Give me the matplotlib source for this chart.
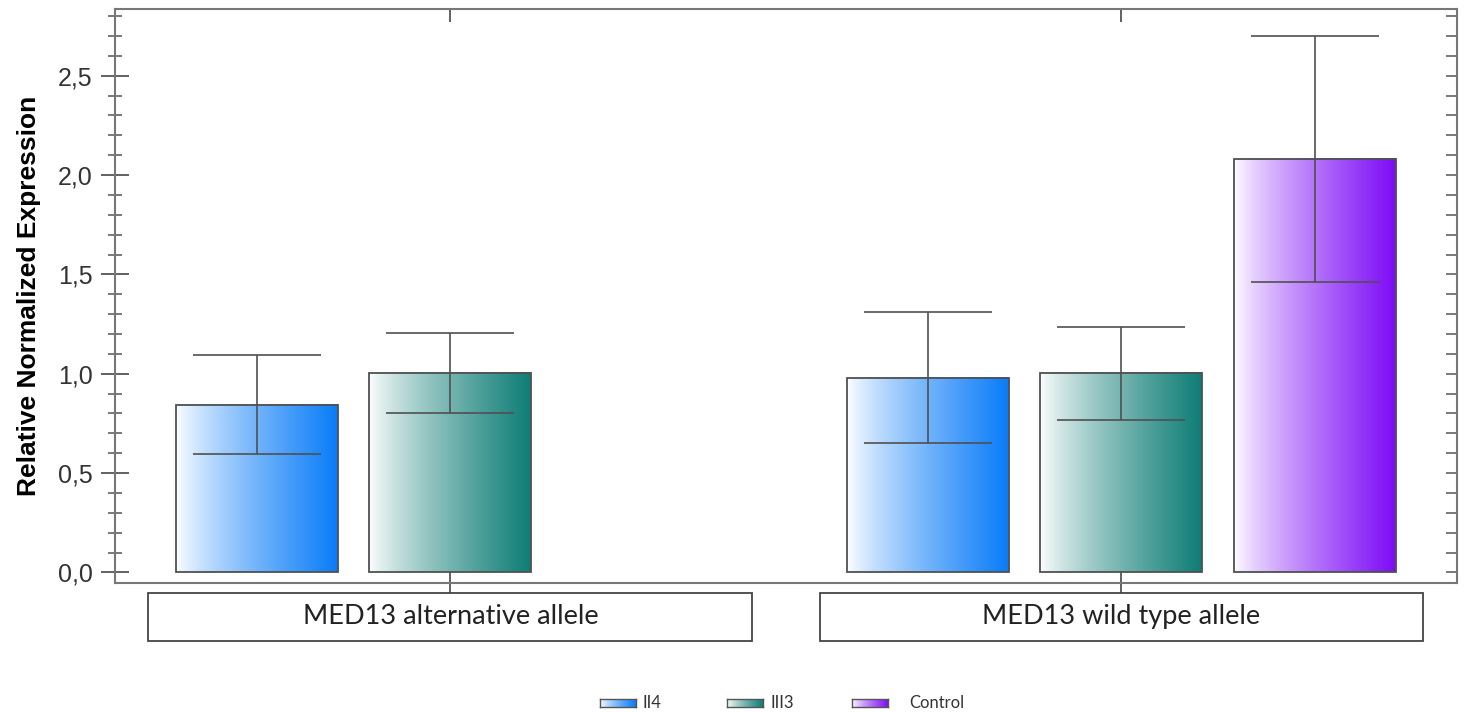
import numpy as np
import matplotlib
matplotlib.use("Agg")
import matplotlib.pyplot as plt
from matplotlib.patches import Rectangle
from matplotlib.colors import to_rgb
from matplotlib.ticker import MultipleLocator, FixedLocator

groups = ["MED13 alternative allele", "MED13 wild type allele"]
series = ["II4", "III3", "Control"]
colors = ["#0a7cf8", "#0f7d76", "#7d0cf5"]
# values[series][group]; None = no bar
values = {
    "II4": [0.845, 0.979],
    "III3": [1.003, 1.002],
    "Control": [None, 2.081],
}
errors = {
    "II4": [0.25, 0.33],
    "III3": [0.202, 0.234],
    "Control": [None, 0.62],
}
yticks = [0.0, 0.5, 1.0, 1.5, 2.0, 2.5]
ytick_labels = ["0,0", "0,5", "1,0", "1,5", "2,0", "2,5"]

fig = plt.figure(figsize=(14.68, 7.12), dpi=100)
ax = fig.add_axes([0.0783, 0.1812, 0.9142, 0.8057])

offset = 0.289
width = 0.2414
edge = "#505050"

def gradient_img(color, n=256):
    c = np.array(to_rgb(color))
    t = np.linspace(0, 1, n) ** 0.8
    img = (1 - t)[:, None] * np.ones(3) + t[:, None] * c
    return img[None, :, :]

for gi, g in enumerate(groups):
    for si, s in enumerate(series):
        v = values[s][gi]
        if v is None:
            continue
        x = gi + (si - 1) * offset
        bars = ax.bar(x, v, width=width, facecolor="none", edgecolor=edge,
                      linewidth=1.3, zorder=3)
        r = bars[0]
        ax.imshow(gradient_img(colors[si]), extent=(r.get_x(), r.get_x() + r.get_width(), 0, v),
                  aspect="auto", zorder=2, interpolation="bilinear")
        ax.errorbar(x, v, yerr=errors[s][gi], fmt="none", ecolor="#505050",
                    elinewidth=1.2, capsize=46, capthick=1.2, zorder=4)

ax.set_xlim(-0.5, 1.5)
ax.set_ylim(-0.053, 2.834)

ax.yaxis.set_major_locator(FixedLocator(yticks))
ax.set_yticklabels(ytick_labels)
ax.yaxis.set_minor_locator(MultipleLocator(0.1))
ax.tick_params(axis="y", which="major", direction="inout", length=20, width=1.3,
               color="#555555", labelsize=18, labelcolor="#333333", pad=6)
ax.tick_params(axis="y", which="minor", direction="inout", length=10, width=1.1,
               color="#555555")
ax.tick_params(axis="y", which="both", labelfontfamily="Liberation Sans")
ax.set_xticks([0, 1])
ax.set_xticklabels([])
ax.tick_params(axis="x", which="major", direction="inout", length=20, width=1.3,
               color="#555555")
for sp in ax.spines.values():
    sp.set_color("#777777")
    sp.set_linewidth(1.5)

# inward-only ticks on top and right
sec_x = ax.secondary_xaxis("top")
sec_x.set_xticks([0, 1])
sec_x.set_xticklabels([])
sec_x.tick_params(direction="in", length=9, width=1.3, color="#555555")
sec_x.spines["top"].set_visible(False)
sec_y = ax.secondary_yaxis("right")
sec_y.yaxis.set_major_locator(FixedLocator(yticks))
sec_y.yaxis.set_minor_locator(MultipleLocator(0.1))
sec_y.set_yticklabels([])
sec_y.tick_params(which="both", direction="in", length=8, width=1.1, color="#555555")
sec_y.spines["right"].set_visible(False)

ax.set_ylabel("Relative Normalized Expression", fontsize=19, fontweight="bold",
              family="Liberation Sans", labelpad=12)

# group label boxes
trans = ax.get_xaxis_transform()
for gi, g in enumerate(groups):
    rect = Rectangle((gi - 0.45, -0.101), 0.90, 0.0836, transform=trans,
                     facecolor="white", edgecolor="#444444", linewidth=1.3,
                     clip_on=False, zorder=5)
    ax.add_patch(rect)
    ax.text(gi, -0.059, g, transform=trans, ha="center", va="center",
            fontsize=19.5, family="Lato", color="#222222", zorder=6)

# legend
leg_x = [600, 727, 852]
for si, s in enumerate(series):
    x0 = leg_x[si] / 1468
    lax = fig.add_axes([x0, (712 - 707) / 712, 36 / 1468, 8 / 712])
    lax.imshow(gradient_img(colors[si]), aspect="auto", extent=(0, 1, 0, 1))
    lax.set_xticks([]); lax.set_yticks([])
    for sp in lax.spines.values():
        sp.set_color("#555555"); sp.set_linewidth(1.0)
    fig.text((leg_x[si] + 43 if si < 2 else leg_x[si] + 57) / 1468, (712 - 703) / 712, s,
             ha="left", va="center", fontsize=12, family="Lato", color="#333333")

fig.savefig("out.png", dpi=100)
